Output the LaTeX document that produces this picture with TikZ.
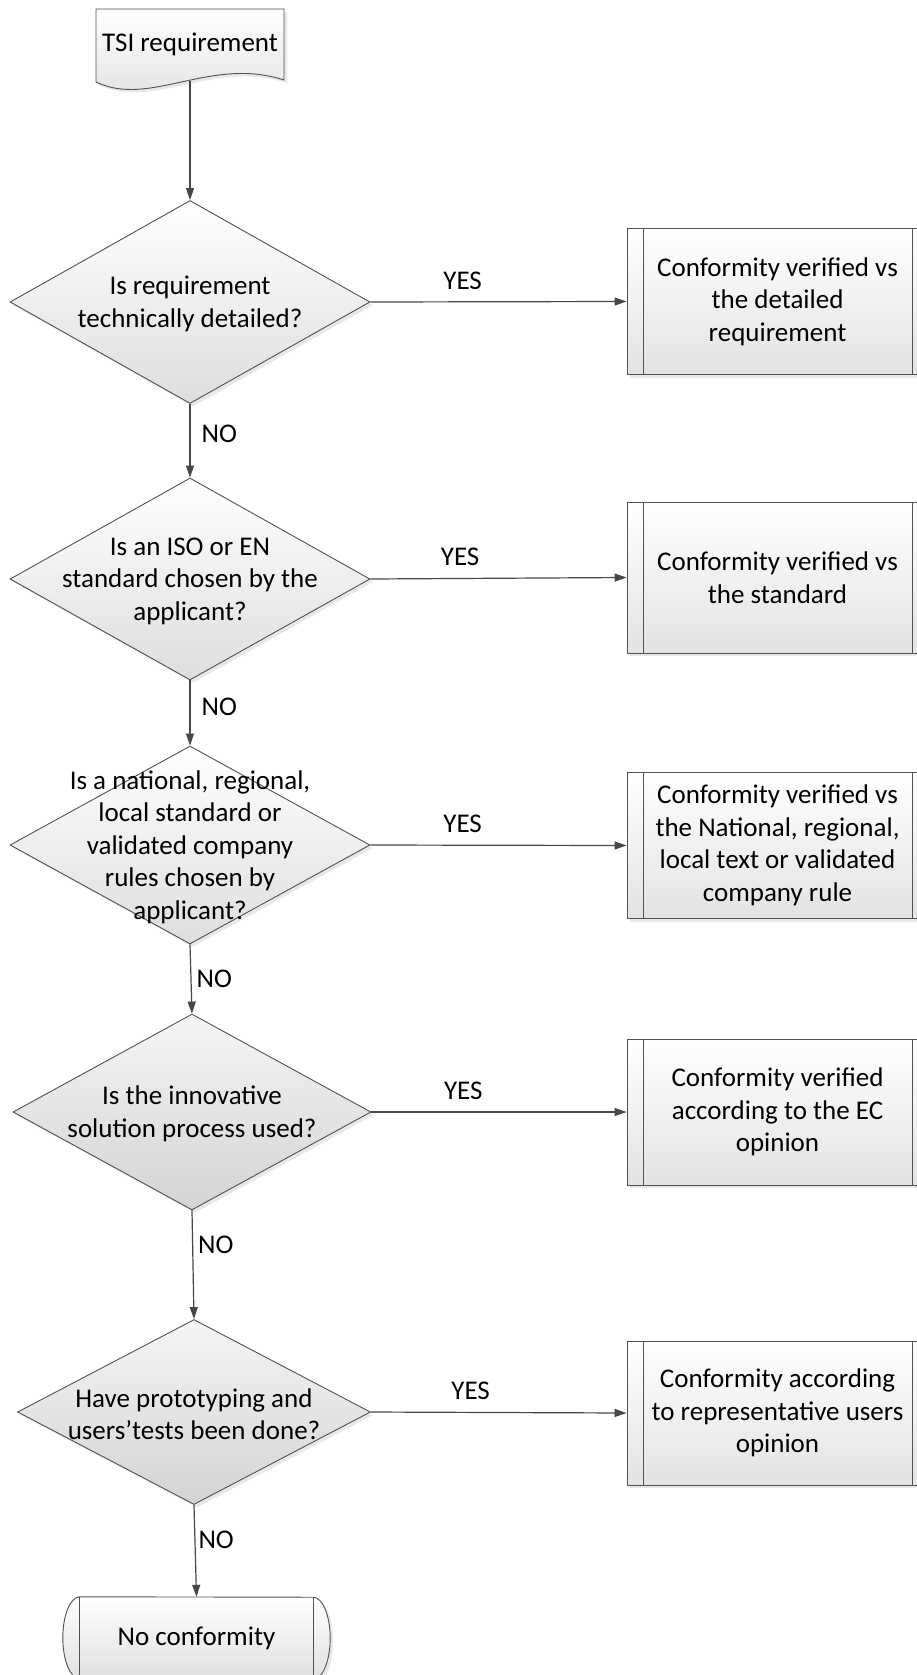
\documentclass[tikz,border=0pt]{standalone}
\usepackage{fontspec}
\setmainfont{Carlito}
\usetikzlibrary{shapes.geometric,arrows.meta,shadows,backgrounds}

\tikzset{
  flowline/.style={draw=black!68, line width=0.9pt},
  softshadow/.style={drop shadow={opacity=0.18,shadow xshift=3pt,shadow yshift=-3pt}},
  decision/.style={diamond, flowline, inner sep=0pt, minimum width=360pt,
    minimum height=203pt, top color=white, bottom color=black!13, softshadow},
  decisiondark/.style={decision, top color=black!4, bottom color=black!17},
  qtext/.style={align=center, inner sep=0pt},
  process/.style={rectangle, flowline, minimum width=301pt, minimum height=146pt,
    align=center, top color=white, bottom color=black!11, softshadow,
    path picture={
      \draw[black!68, line width=0.9pt]
        ([xshift=16pt]path picture bounding box.north west) -- ([xshift=16pt]path picture bounding box.south west)
        ([xshift=-16pt]path picture bounding box.north east) -- ([xshift=-16pt]path picture bounding box.south east);
    }},
  flowarrow/.style={draw=black!72, line width=1.2pt, -{Triangle[length=12pt,width=8pt]}},
  answer/.style={inner sep=2pt},
}

\begin{document}
\begin{tikzpicture}[x=1pt,y=-1pt,font=\fontsize{27}{32.5}\selectfont]
  \useasboundingbox (0,0) rectangle (917,1675);

  % start document
  \node (tsi) at (190,44) {TSI requirement};
  \coordinate (tsiout) at (190,81);

  % questions
  \node[decision, label={[qtext,yshift=-2pt]center:Is requirement\\technically detailed?}] (d1) at (190,302) {};
  \node[decision, minimum height=202pt, label={[qtext,yshift=-2pt]center:Is an ISO or EN\\standard chosen by the\\applicant?}] (d2) at (190,579) {};
  \node[decision, minimum height=198pt, label={[qtext,yshift=-2pt]center:Is a national, regional,\\local standard or\\validated company\\rules chosen by\\applicant?}] (d3) at (190,845) {};
  \node[decisiondark, minimum width=358pt, minimum height=196pt, label={[qtext,yshift=-2pt]center:Is the innovative\\solution process used?}] (d4) at (192,1112) {};
  \node[decisiondark, minimum width=353pt, minimum height=185pt, label={[qtext,yshift=-2pt]center:Have prototyping and\\users'tests been done?}] (d5) at (194,1412) {};

  % outcomes
  \node[process] (b1) at (777.5,301.5) {Conformity verified vs\\the detailed\\requirement};
  \node[process, minimum height=151pt] (b2) at (777.5,577.5) {Conformity verified vs\\the standard};
  \node[process] (b3) at (777.5,845.5) {Conformity verified vs\\the National, regional,\\local text or validated\\company rule};
  \node[process] (b4) at (777.5,1112) {Conformity verified\\according to the EC\\opinion};
  \node[process, minimum height=144pt] (b5) at (777.5,1413) {Conformity according\\to representative users\\opinion};

  % end
  \node[minimum width=233pt, minimum height=82pt] (stop) at (196.5,1638) {No conformity};

  \begin{scope}[on background layer]
    \draw[flowline, top color=white, bottom color=black!12, softshadow]
      (96,9) -- (284,9) -- (284,80) .. controls (210,56) and (150,108) .. (96,82) -- cycle;
    \draw[flowline, top color=white, bottom color=black!12, softshadow]
      (stop.north west) arc[start angle=90, end angle=270, x radius=17pt, y radius=41pt]
      -- (stop.south east) arc[start angle=-90, end angle=90, x radius=17pt, y radius=41pt]
      -- cycle;
    \draw[flowline] (stop.north west) -- (stop.south west) (stop.north east) -- (stop.south east);
  \end{scope}

  % connectors
  \draw[flowarrow] (tsiout) -- (d1.north);
  \draw[flowarrow] (d1.south) -- node[answer,right=9pt,pos=0.4]{NO} (d2.north);
  \draw[flowarrow] (d2.south) -- node[answer,right=9pt,pos=0.4]{NO} (d3.north);
  \draw[flowarrow] (d3.south) -- node[answer,right=3pt,pos=0.5]{NO} (d4.north);
  \draw[flowarrow] (d4.south) -- node[answer,right=3pt,pos=0.32]{NO} (d5.north);
  \draw[flowarrow] (d5.south) -- node[answer,right=1pt,pos=0.38]{NO} (stop.north);

  \draw[flowarrow] (d1.east) -- node[answer,above=10pt,pos=0.36]{YES} (b1.west);
  \draw[flowarrow] (d2.east) -- node[answer,above=10pt,pos=0.35]{YES} (b2.west);
  \draw[flowarrow] (d3.east) -- node[answer,above=10pt,pos=0.36]{YES} (b3.west);
  \draw[flowarrow] (d4.east) -- node[answer,above=10pt,pos=0.36]{YES} (b4.west);
  \draw[flowarrow] (d5.east) -- node[answer,above=10pt,pos=0.39]{YES} (b5.west);
\end{tikzpicture}
\end{document}
